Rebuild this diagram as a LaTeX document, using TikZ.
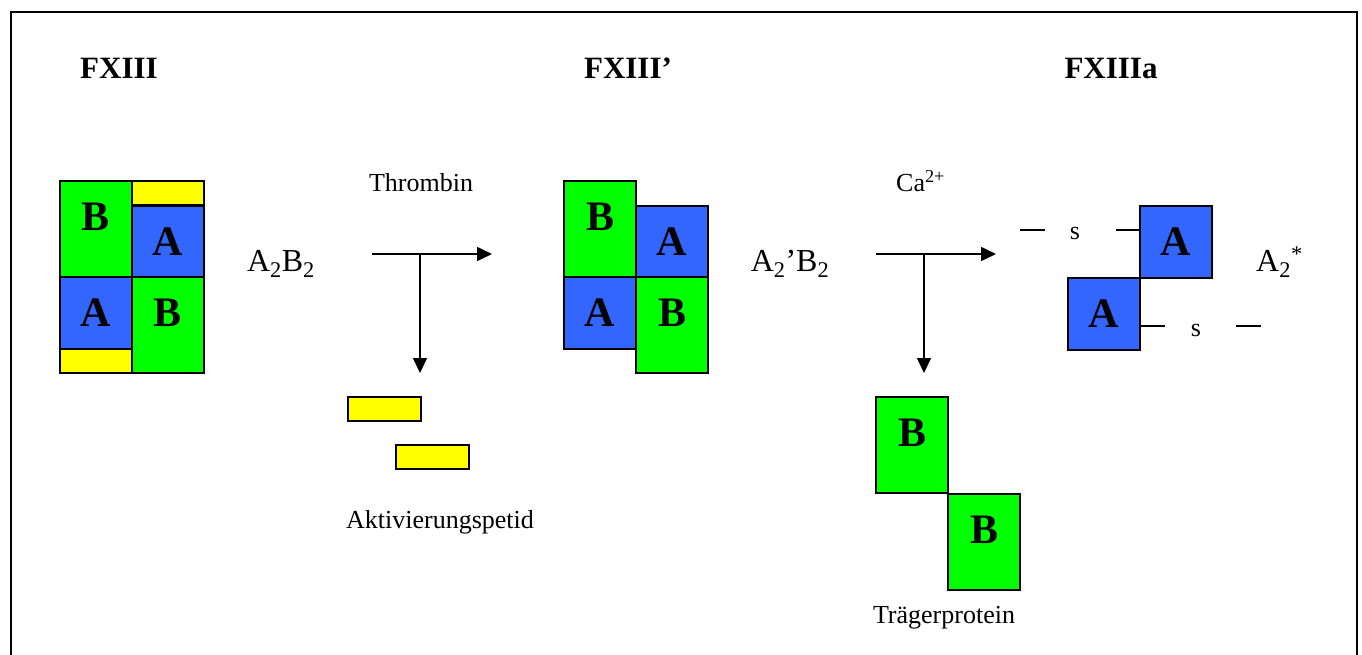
\documentclass[tikz,border=0pt]{standalone}
\usepackage{fontspec}
\setmainfont{Liberation Serif}
\usetikzlibrary{arrows.meta}
\definecolor{protA}{HTML}{3366FF}
\definecolor{protB}{HTML}{00FF00}
\definecolor{pep}{HTML}{FFFF00}
\newcommand\fsz[1]{\fontsize{#1}{#1}\selectfont}
\tikzset{
  box/.style={draw, line width=2pt, inner sep=0pt, outer sep=0pt, anchor=north west,
    font=\bfseries\fsz{42}},
  abox/.style={box, fill=protA, minimum width=72pt, minimum height=72pt},
  gbox/.style={box, fill=protB, minimum width=72pt, minimum height=96pt,
    label={[font=\bfseries\fsz{42}, yshift=12pt, inner sep=0pt]center:B}},
  ybox/.style={box, fill=pep, minimum width=72pt, minimum height=24pt},
  title/.style={font=\bfseries\fsz{31}, anchor=base, inner sep=0pt},
  txt/.style={font=\fsz{26}, anchor=base, inner sep=0pt},
  formula/.style={font=\fsz{32}, anchor=base, inner sep=0pt},
  react/.style={line width=1.6pt, -{Triangle[length=15pt,width=14pt]}},
  bond/.style={line width=1.6pt}
}
\begin{document}
\begin{tikzpicture}[x=1pt, y=-1pt]
\useasboundingbox (0,0) rectangle (1362,655);
\clip (0,0) rectangle (1362,655);
% open frame
\draw[line width=2pt] (11,700) -- (11,12.5) -- (1357,12.5) -- (1357,700);

% titles
\node[title] (t1) at (119,79) {FXIII};
\node[title] (t2) at (628,79) {FXIII’};
\node[title] (t3) at (1111,79) {FXIIIa};

% FXIII = A2B2 with activation peptides
\node[gbox] (b1) at (60,181) {};
\node[abox] (a1) at (60,277) {A};
\node[ybox] (p1) at (60,349) {};
\node[ybox] (p2) at (132,181) {};
\node[abox] (a2) at (132,206) {A};
\node[gbox] (b2) at (132,277) {};
\node[formula] (f1) at (281,271) {A\textsubscript{2}B\textsubscript{2}};

% thrombin cleavage
\node[txt] (thr) at (421,192) {Thrombin};
\coordinate (h1s) at (372,254);
\coordinate (h1e) at (492,254);
\coordinate (v1s) at (420,254);
\coordinate (v1e) at (420,373);
\draw[react] (h1s) -- (h1e);
\draw[react] (v1s) -- (v1e);
\node[ybox, minimum width=73pt] (p3) at (348,397) {};
\node[ybox, minimum width=73pt] (p4) at (396,445) {};
\node[txt] (akt) at (440,528) {Aktivierungspetid};

% FXIII' = A2'B2
\node[gbox] (b3) at (564,181) {};
\node[abox] (a3) at (636,206) {A};
\node[abox] (a4) at (564,277) {A};
\node[gbox] (b4) at (636,277) {};
\node[formula] (f2) at (790,271) {A\textsubscript{2}’B\textsubscript{2}};

% calcium-dependent dissociation
\node[txt, anchor=base west] (ca) at (896,192) {Ca\textsuperscript{2+}};
\coordinate (h2s) at (876,254);
\coordinate (h2e) at (996,254);
\coordinate (v2s) at (924,254);
\coordinate (v2e) at (924,373);
\draw[react] (h2s) -- (h2e);
\draw[react] (v2s) -- (v2e);
\node[gbox] (b5) at (876,397) {};
\node[gbox] (b6) at (948,494) {};
\node[txt] (trp) at (944,623) {Trägerprotein};

% FXIIIa = A2*
\node[abox] (a5) at (1140,206) {A};
\node[abox] (a6) at (1068,278) {A};
\node[txt] (s1) at (1075,240) {s};
\node[txt] (s2) at (1196,336) {s};
\coordinate (d1) at (1020,230);
\coordinate (d2) at (1045,230);
\coordinate (d3) at (1116,230);
\coordinate (d4) at (1165,326);
\coordinate (d5) at (1236,326);
\coordinate (d6) at (1261,326);
\draw[bond] (d1) -- (d2);
\draw[bond] (d3) -- (a5.west |- d3);
\draw[bond] (a6.east |- d4) -- (d4);
\draw[bond] (d5) -- (d6);
\node[formula, anchor=base west] (f3) at (1256,271) {A\textsubscript{2}\textsuperscript{*}};
\end{tikzpicture}
\end{document}
